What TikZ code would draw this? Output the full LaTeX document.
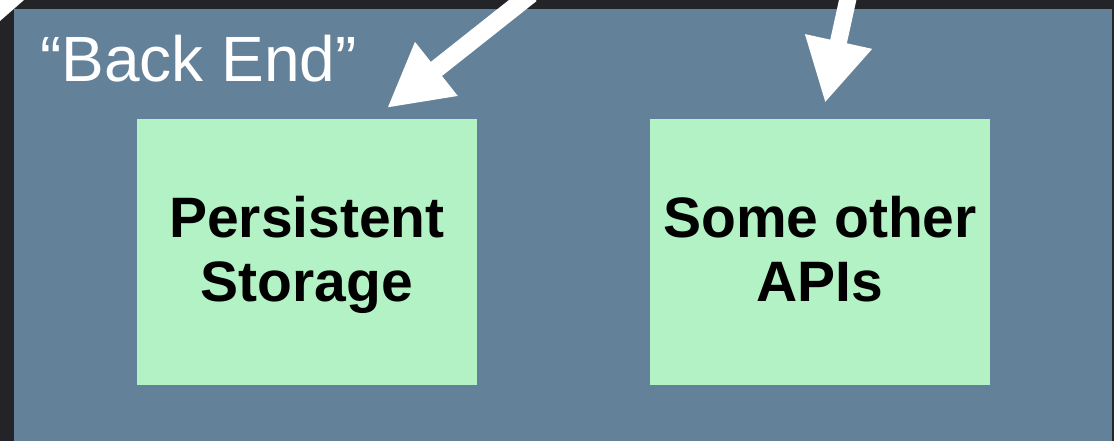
\documentclass[tikz,border=0pt]{standalone}
\usepackage{fontspec}
\setmainfont{Liberation Sans}
\usetikzlibrary{arrows.meta}
\definecolor{pagebg}{HTML}{232427}
\definecolor{slate}{HTML}{64819A}
\definecolor{mint}{HTML}{B2F2C4}
\tikzset{
  tier/.style={fill=slate, draw=none},
  service/.style={fill=mint, draw=none, minimum width=340, minimum height=266,
    inner sep=0, align=center, font=\fontsize{57}{64}\selectfont\bfseries, text=black},
  bigarrow/.style={draw=white, line width=#1, -{Triangle[length=63, width=64]}},
}
\begin{document}
\begin{tikzpicture}[x=1pt, y=-1pt]
  \useasboundingbox (0,0) rectangle (1114,441);
  \clip (0,0) rectangle (1114,441);
  \fill[pagebg] (0,0) rectangle (1114,441);
  % back-end tier
  \fill[tier] (14,9) rectangle (1112,445);
  \node[anchor=base west, inner sep=0, text=white, font=\fontsize{64}{70}\selectfont]
    (title) at (40,82) {“Back End”};
  % services (boxes drawn first, labels set on fixed baselines)
  \node[service] (storage) at (307,252) {};
  \node[service] (apis) at (820,252) {};
  \node[align=center, inner sep=0, font=\fontsize{57}{64}\selectfont\bfseries]
    (storagelabel) at (307,257) {\strut Persistent\\\strut Storage};
  \node[align=center, inner sep=0, font=\fontsize{57}{64}\selectfont\bfseries]
    (apislabel) at (820,257) {\strut Some other\\\strut APIs};
  % incoming requests
  \coordinate (from1) at (531,-6);
  \coordinate (to1) at (387,108);
  \coordinate (from2) at (849,-6);
  \coordinate (to2) at (825,103);
  \draw[bigarrow=18] (from1) -- (to1);
  \draw[bigarrow=17] (from2) -- (to2);
  % edge of a pointer entering from the corner
  \fill[white] (0,0) -- (24,0) -- (0,21) -- cycle;
\end{tikzpicture}
\end{document}
